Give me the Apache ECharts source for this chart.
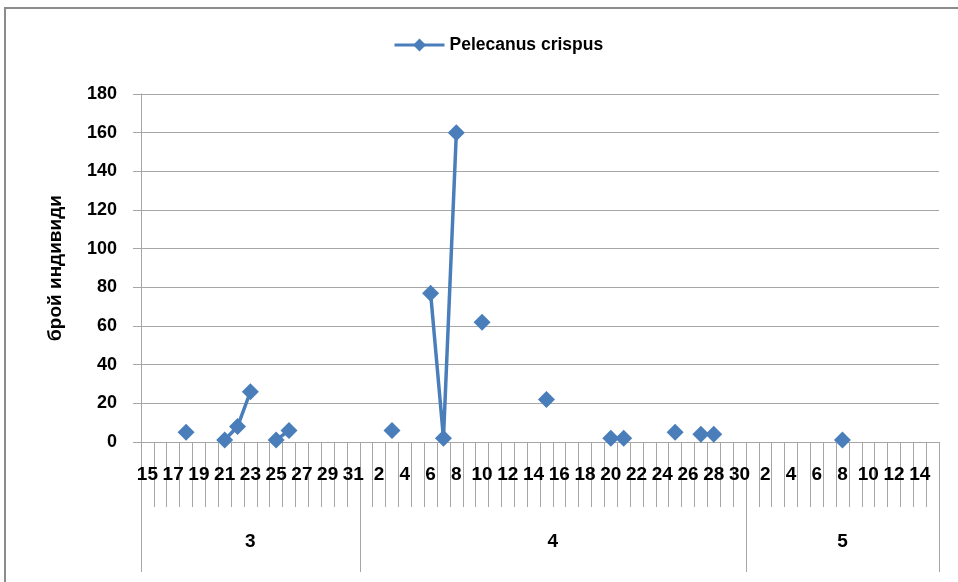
<!DOCTYPE html>
<html><head><meta charset="utf-8">
<script src="https://cdn.jsdelivr.net/npm/echarts@6/dist/echarts.min.js"></script>
<style>html,body{margin:0;padding:0;background:#fff}#c{width:958px;height:582px}</style>
</head><body><div id="c"></div>
<script>
const seriesName = 'Pelecanus crispus';
const yTitle = 'брой индивиди';
const yTicks = [0, 20, 40, 60, 80, 100, 120, 140, 160, 180];
const months = ['3', '4', '5'];
const marchDays = [15,16,17,18,19,20,21,22,23,24,25,26,27,28,29,30,31];
const aprilDays = [1,2,3,4,5,6,7,8,9,10,11,12,13,14,15,16,17,18,19,20,21,22,23,24,25,26,27,28,29,30];
const mayDays = [1,2,3,4,5,6,7,8,9,10,11,12,13,14,15];
const marchValues = [null,null,null,5,null,null,1,8,26,null,1,6,null,null,null,null,null];
const aprilValues = [null,null,6,null,null,77,2,160,null,62,null,null,null,null,22,null,null,null,null,2,2,null,null,null,5,null,4,4,null,null];
const mayValues = [null,null,null,null,null,null,null,1,null,null,null,null,null,null,null];

const dayGroups = [marchDays, aprilDays, mayDays];
const categories = [].concat(marchDays, aprilDays, mayDays).map(String);
const values = [].concat(marchValues, aprilValues, mayValues);
const boundaries = [0];
const centers = [];
dayGroups.forEach(g => { const s = boundaries[boundaries.length - 1]; centers.push(s + g.length / 2); boundaries.push(s + g.length); });

const gray = '#a6a6a6';
const blue = '#4a7ebb';
const font = 'Liberation Sans';
const chart = echarts.init(document.getElementById('c'));
chart.setOption({
  animation: false,
  backgroundColor: '#fff',
  graphic: [{ type: 'rect', shape: { x: 5, y: 8, width: 1200, height: 1200 }, style: { fill: 'none', stroke: '#8c8c8c', lineWidth: 2 } }],
  legend: {
    top: 31, left: 388, itemWidth: 50, itemHeight: 16, itemGap: 5,
    lineStyle: { width: 3, color: blue },
    textStyle: { fontFamily: font, fontSize: 17.5, color: '#000', fontWeight: 'bold' },
    data: [seriesName]
  },
  grid: { left: 141, top: 94, right: 19, bottom: 140 },
  xAxis: [{
    type: 'category', data: categories, boundaryGap: true,
    axisLine: { lineStyle: { color: gray, width: 1 } },
    axisTick: { show: true, interval: 0, length: 65, lineStyle: { color: gray } },
    axisLabel: { interval: 1, margin: 23, fontFamily: font, fontSize: 19, fontWeight: 'bold', color: '#000' },
    splitLine: { show: false }
  }, {
    type: 'value', min: 0, max: boundaries[boundaries.length - 1], position: 'bottom',
    axisLine: { show: false },
    axisTick: { show: true, length: 130, customValues: boundaries, lineStyle: { color: gray } },
    axisLabel: { customValues: centers, margin: 90, fontFamily: font, fontSize: 19, fontWeight: 'bold', color: '#000',
      formatter: v => { const i = centers.indexOf(v); return i >= 0 ? months[i] : ''; } },
    splitLine: { show: false }
  }],
  yAxis: {
    type: 'value', min: yTicks[0], max: yTicks[yTicks.length - 1], interval: yTicks[1] - yTicks[0],
    name: yTitle, nameLocation: 'middle', nameGap: 76, nameRotate: 90,
    nameTextStyle: { fontFamily: font, fontSize: 19, fontWeight: 'bold', color: '#000' },
    axisLine: { show: true, lineStyle: { color: gray } },
    axisTick: { show: true, length: 8, lineStyle: { color: gray } },
    axisLabel: { margin: 24, fontFamily: font, fontSize: 18, fontWeight: 'bold', color: '#000' },
    splitLine: { show: true, lineStyle: { color: gray, width: 1 } }
  },
  series: [{
    name: seriesName, type: 'line', data: values, connectNulls: false,
    symbol: 'diamond', symbolSize: 17, showAllSymbol: true,
    itemStyle: { color: blue },
    lineStyle: { color: blue, width: 3.5 }
  }]
});
</script></body></html>
